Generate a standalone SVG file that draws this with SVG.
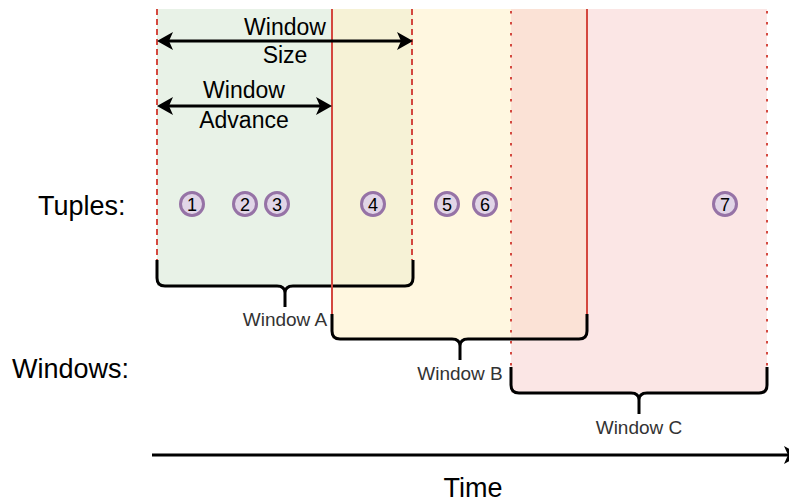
<svg xmlns="http://www.w3.org/2000/svg" width="789" height="504" viewBox="0 0 789 504">
  <style>
    text { font-family: "Liberation Sans", Arial, sans-serif; }
    .big { font-size: 27px; fill: #000; }
    .dim { font-size: 23px; fill: #000; text-anchor: middle; }
    .wlabel { font-size: 19px; fill: #333; text-anchor: middle; }
    .num { font-size: 18px; fill: #000; text-anchor: middle; }
    .tuple { fill: #e1d5e7; stroke: #9673a6; stroke-width: 3; }
    .brace { fill: none; stroke: #000; stroke-width: 3; stroke-linejoin: round; }
    .edge-dash { stroke: #d4483f; stroke-width: 2; stroke-dasharray: 6 4; }
    .edge-solid { stroke: #d4483f; stroke-width: 2; }
    .edge-dot { stroke: #d4483f; stroke-width: 2; stroke-dasharray: 2.5 8.5; }
    .arrow { stroke: #000; stroke-width: 3; fill: none; }
  </style>
  <defs>
    <marker id="head" viewBox="0 0 16 18" refX="6" refY="9" markerWidth="16" markerHeight="18" markerUnits="userSpaceOnUse" orient="auto-start-reverse">
      <path d="M0,0 L16,9 L0,18 L4,9 Z" fill="#000"/>
    </marker>
  </defs>

  <!-- translucent window spans, painted first so all strokes sit on top -->
  <g id="window-fills">
    <rect x="157" y="9" width="256" height="277" fill="#d5e8d4" fill-opacity="0.55"/>
    <rect x="332" y="9" width="255" height="330" fill="#fff2cc" fill-opacity="0.6"/>
    <rect x="511" y="9" width="256" height="384" fill="#f8cecc" fill-opacity="0.5"/>
  </g>

  <!-- window bounds, braces and names -->
  <g id="window-a">
    <line class="edge-dash" x1="157" y1="9" x2="157" y2="260"/>
    <line class="edge-dash" x1="412" y1="9" x2="412" y2="260"/>
    <path class="brace" d="M157,260 V278 Q157,286 165,286 H277 Q285,286 285,293 M413,260 V278 Q413,286 405,286 H293 Q285,286 285,293 V307"/>
    <text class="wlabel" x="285" y="326">Window A</text>
  </g>
  <g id="window-b">
    <line class="edge-solid" x1="332" y1="9" x2="332" y2="314"/>
    <line class="edge-solid" x1="587" y1="9" x2="587" y2="314"/>
    <path class="brace" d="M332,314 V331 Q332,339 340,339 H452 Q460,339 460,346 M587,314 V331 Q587,339 579,339 H468 Q460,339 460,346 V360"/>
    <text class="wlabel" x="460" y="380">Window B</text>
  </g>
  <g id="window-c">
    <line class="edge-dot" x1="511" y1="11" x2="511" y2="367"/>
    <line class="edge-dot" x1="767" y1="11" x2="767" y2="367"/>
    <path class="brace" d="M511,367 V385 Q511,393 519,393 H631 Q639,393 639,400 M767,367 V385 Q767,393 759,393 H647 Q639,393 639,400 V414"/>
    <text class="wlabel" x="639" y="434">Window C</text>
  </g>

  <!-- row labels -->
  <g id="row-labels">
    <text class="big" x="38" y="215">Tuples:</text>
    <text class="big" x="12" y="378">Windows:</text>
    <text class="big" x="473" y="497" text-anchor="middle">Time</text>
  </g>

  <!-- tuples -->
  <g id="tuple-1"><circle class="tuple" cx="192" cy="204" r="11.5"/><text class="num" x="192" y="210.5">1</text></g>
  <g id="tuple-2"><circle class="tuple" cx="245" cy="204" r="11.5"/><text class="num" x="245" y="210.5">2</text></g>
  <g id="tuple-3"><circle class="tuple" cx="277" cy="204" r="11.5"/><text class="num" x="277" y="210.5">3</text></g>
  <g id="tuple-4"><circle class="tuple" cx="373" cy="204" r="11.5"/><text class="num" x="373" y="210.5">4</text></g>
  <g id="tuple-5"><circle class="tuple" cx="447" cy="204" r="11.5"/><text class="num" x="447" y="210.5">5</text></g>
  <g id="tuple-6"><circle class="tuple" cx="485" cy="204" r="11.5"/><text class="num" x="485" y="210.5">6</text></g>
  <g id="tuple-7"><circle class="tuple" cx="725" cy="204" r="11.5"/><text class="num" x="725" y="210.5">7</text></g>

  <!-- dimension arrows and time axis -->
  <g id="connectors">
    <line class="arrow" x1="167" y1="41" x2="403" y2="41" marker-start="url(#head)" marker-end="url(#head)"/>
    <line class="arrow" x1="167" y1="106" x2="322" y2="106" marker-start="url(#head)" marker-end="url(#head)"/>
    <line class="arrow" x1="152" y1="455" x2="790" y2="455" marker-end="url(#head)"/>
  </g>

  <g id="dimension-labels">
    <text class="dim" x="285" y="35">Window</text>
    <text class="dim" x="285" y="63">Size</text>
    <text class="dim" x="244" y="98">Window</text>
    <text class="dim" x="244" y="128">Advance</text>
  </g>
</svg>
